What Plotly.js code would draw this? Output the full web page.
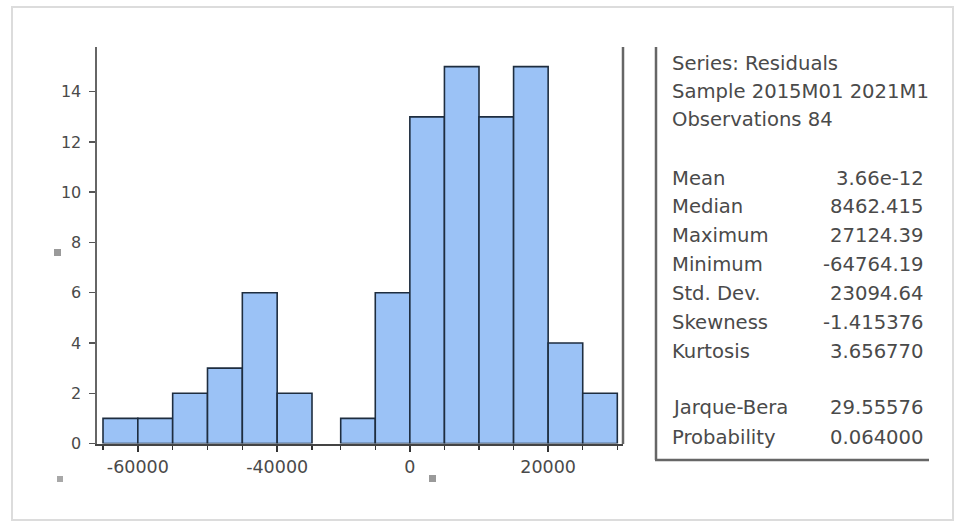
<!DOCTYPE html>
<html>
<head>
<meta charset="utf-8">
<script src="https://cdn.plot.ly/plotly-3.0.1.min.js"></script>
<style>html,body{margin:0;padding:0;background:#fff;}#chart{width:959px;height:524px;}</style>
</head>
<body>
<div id="chart"></div>
<script>
// Histogram bins (bin start, width 5000)
var leftBinStarts = [-65000, -60000, -55000, -50000, -45000, -40000];
var leftCounts = [1, 1, 2, 3, 6, 2];
var rightBinStarts = [-10000, -5000, 0, 5000, 10000, 15000, 20000, 25000];
var rightCounts = [1, 6, 13, 15, 13, 15, 4, 2];
var binWidth = 5000;

var leftTickVals = [-60000, -40000];
var leftTickText = ["-60000", "-40000"];
var rightTickVals = [0, 20000];
var rightTickText = ["0", "20000"];
var yTickVals = [0, 2, 4, 6, 8, 10, 12, 14];
var yTickText = ["0", "2", "4", "6", "8", "10", "12", "14"];

var headerLines = ["Series: Residuals", "Sample 2015M01 2021M1", "Observations 84"];
var statLabels = ["Mean", "Median", "Maximum", "Minimum", "Std. Dev.", "Skewness", "Kurtosis", "Jarque-Bera", "Probability"];
var statValues = ["3.66e-12", "8462.415", "27124.39", "-64764.19", "23094.64", "-1.415376", "3.656770", "29.55576", "0.064000"];

var W = 959, H = 524;
function px(x){ return x / W; }
function py(y){ return 1 - y / H; }

var barFill = "#9bc2f6";
var barLine = "#1e2d3f";
var textColor = "#4a4a4a";
var fam = "DejaVu Sans";

var traces = [
  {type: "bar", x: leftBinStarts, y: leftCounts, width: binWidth, offset: 0,
   xaxis: "x", yaxis: "y",
   marker: {color: barFill, line: {color: barLine, width: 1.6}}, hoverinfo: "skip"},
  {type: "bar", x: rightBinStarts, y: rightCounts, width: binWidth, offset: 0,
   xaxis: "x2", yaxis: "y",
   marker: {color: barFill, line: {color: barLine, width: 1.6}}, hoverinfo: "skip"}
];

function xAxisStyle(domain, range, tv, tt){
  return {
    domain: domain, range: range, anchor: "y", fixedrange: true,
    showline: true, linecolor: "#444", linewidth: 2,
    showgrid: false, zeroline: false,
    ticks: "outside", tickmode: "array", tickvals: tv, ticktext: tt,
    ticklen: 6, tickwidth: 1.5, tickcolor: "#333",
    tickfont: {family: fam, size: 17.5, color: textColor},
    minor: {tickmode: "linear", tick0: 0, dtick: binWidth, ticklen: 4, tickwidth: 1.5, tickcolor: "#333", showgrid: false}
  };
}

var shapes = [
  // outer light frame
  {type: "rect", xref: "paper", yref: "paper", x0: px(12), x1: px(953), y0: py(520), y1: py(7),
   line: {color: "#dcdcdc", width: 2}},
  // right frame of the plot
  {type: "line", xref: "paper", yref: "paper", x0: px(623), x1: px(623), y0: py(444), y1: py(47),
   line: {color: "#666", width: 2.5}},
  // stats panel border
  {type: "line", xref: "paper", yref: "paper", x0: px(656), x1: px(656), y0: py(460), y1: py(47),
   line: {color: "#666", width: 2.5}},
  {type: "line", xref: "paper", yref: "paper", x0: px(655), x1: px(929), y0: py(460), y1: py(460),
   line: {color: "#666", width: 2.5}},
  // small grey specks present in the picture
  {type: "rect", xref: "paper", yref: "paper", x0: px(54), x1: px(61), y0: py(256), y1: py(249),
   fillcolor: "#9a9a9a", line: {width: 0}},
  {type: "rect", xref: "paper", yref: "paper", x0: px(57), x1: px(63), y0: py(482), y1: py(476),
   fillcolor: "#a8a8a8", line: {width: 0}},
  {type: "rect", xref: "paper", yref: "paper", x0: px(429), x1: px(436), y0: py(482), y1: py(475),
   fillcolor: "#9a9a9a", line: {width: 0}}
];

var annotations = [];
var headerY = [63, 92, 120];
headerLines.forEach(function(t, i){
  annotations.push({xref: "paper", yref: "paper", x: px(670), y: py(headerY[i]), xanchor: "left", yanchor: "middle",
    text: t, showarrow: false, font: {family: fam, size: 19.6, color: textColor}});
});
var statY = [178, 206, 235, 264, 293, 322, 351, 407, 437];
statLabels.forEach(function(t, i){
  annotations.push({xref: "paper", yref: "paper", x: px(670), y: py(statY[i]), xanchor: "left", yanchor: "middle",
    text: t, showarrow: false, font: {family: fam, size: 19.6, color: textColor}});
  annotations.push({xref: "paper", yref: "paper", x: px(926), y: py(statY[i]), xanchor: "right", yanchor: "middle",
    text: statValues[i], showarrow: false, font: {family: fam, size: 19.6, color: textColor}});
});

var layout = {
  width: W, height: H,
  margin: {l: 0, r: 0, t: 0, b: 0},
  paper_bgcolor: "#ffffff", plot_bgcolor: "#ffffff",
  showlegend: false, bargap: 0,
  xaxis: xAxisStyle([px(97), px(326)], [-65861, -32991], leftTickVals, leftTickText),
  xaxis2: xAxisStyle([px(326), px(623)], [-12126, 30824], rightTickVals, rightTickText),
  yaxis: {
    domain: [py(443.5), py(47)], range: [0, 15.78], anchor: "x", fixedrange: true,
    showline: true, linecolor: "#666", linewidth: 2.5,
    showgrid: false, zeroline: false,
    ticks: "outside", tickmode: "array", tickvals: yTickVals, ticktext: yTickText,
    ticklen: 6, tickwidth: 1.5, tickcolor: "#555", ticklabelstandoff: 4,
    tickfont: {family: fam, size: 16, color: textColor}
  },
  shapes: shapes,
  annotations: annotations
};

Plotly.newPlot("chart", traces, layout, {staticPlot: true, displayModeBar: false});
</script>
</body>
</html>
